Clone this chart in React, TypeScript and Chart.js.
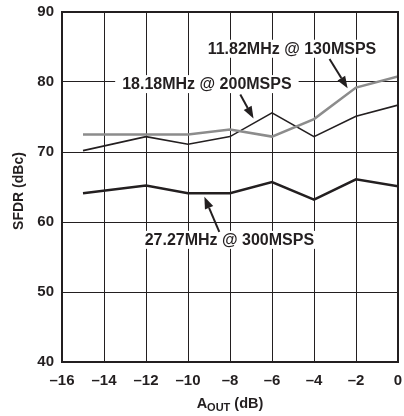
import React, { useEffect, useRef } from 'react';
import { Chart, registerables } from 'chart.js';

Chart.register(...registerables);

// ---- data ----
const aoutValues = [-15, -12, -10, -8, -6, -4, -2, 0];
const sfdr130 = [72.5, 72.5, 72.5, 73.2, 72.2, 74.7, 79.2, 80.8];
const sfdr200 = [70.2, 72.2, 71.1, 72.2, 75.6, 72.2, 75.1, 76.7];
const sfdr300 = [64.1, 65.2, 64.1, 64.1, 65.7, 63.2, 66.1, 65.1];
const seriesLabels = ['11.82MHz @ 130MSPS', '18.18MHz @ 200MSPS', '27.27MHz @ 300MSPS'];
const xTicks = [-16, -14, -12, -10, -8, -6, -4, -2, 0];
const yTicks = [40, 50, 60, 70, 80, 90];

// annotation placement in data units
const labelPos = [
  { x: -5.05, y: 84.75 },
  { x: -9.1, y: 79.7 },
  { x: -8.03, y: 57.45 },
];
const arrowPos = [
  { x1: -3.26, y1: 83.3, x2: -2.4, y2: 79.1 },
  { x1: -7.51, y1: 78.2, x2: -6.88, y2: 74.8 },
  { x1: -8.51, y1: 58.6, x2: -9.22, y2: 63.6 },
];

const FONT = '"Liberation Sans", Arial, Helvetica, sans-serif';
const TEXT = '#231f20';

const annotationPlugin = {
  id: 'annots',
  beforeDatasetsDraw(chart: any) {
    const { ctx, scales } = chart;
    const xs = scales.x, ys = scales.y;
    ctx.save();
    ctx.font = `bold 16px ${FONT}`;
    ctx.textAlign = 'center';
    ctx.textBaseline = 'middle';
    labelPos.forEach((p, i) => {
      const cx = xs.getPixelForValue(p.x);
      const cy = ys.getPixelForValue(p.y);
      const w = ctx.measureText(seriesLabels[i]).width;
      ctx.fillStyle = '#ffffff';
      ctx.fillRect(cx - w / 2 - 7, cy - 9, w + 14, 18);
      ctx.fillStyle = TEXT;
      ctx.fillText(seriesLabels[i], cx, cy + 0.5);
    });
    ctx.restore();
  },
  afterDatasetsDraw(chart: any) {
    const { ctx, scales, chartArea } = chart;
    const xs = scales.x, ys = scales.y;
    ctx.save();
    // arrows
    arrowPos.forEach((a) => {
      const x1 = xs.getPixelForValue(a.x1), y1 = ys.getPixelForValue(a.y1);
      const x2 = xs.getPixelForValue(a.x2), y2 = ys.getPixelForValue(a.y2);
      const ang = Math.atan2(y2 - y1, x2 - x1);
      const head = 12, hw = 4.5;
      const bx = x2 - head * Math.cos(ang), by = y2 - head * Math.sin(ang);
      ctx.strokeStyle = TEXT;
      ctx.lineWidth = 2;
      ctx.beginPath();
      ctx.moveTo(x1, y1);
      ctx.lineTo(bx, by);
      ctx.stroke();
      ctx.fillStyle = TEXT;
      ctx.beginPath();
      ctx.moveTo(x2, y2);
      ctx.lineTo(bx + hw * Math.sin(ang), by - hw * Math.cos(ang));
      ctx.lineTo(bx - hw * Math.sin(ang), by + hw * Math.cos(ang));
      ctx.closePath();
      ctx.fill();
    });
    // frame
    ctx.strokeStyle = TEXT;
    ctx.lineWidth = 2;
    ctx.strokeRect(chartArea.left, chartArea.top, chartArea.right - chartArea.left, chartArea.bottom - chartArea.top);
    // y title
    ctx.fillStyle = TEXT;
    ctx.font = `bold 14px ${FONT}`;
    ctx.textAlign = 'center';
    ctx.textBaseline = 'middle';
    ctx.save();
    ctx.translate(19, (chartArea.top + chartArea.bottom) / 2 + 4);
    ctx.rotate(-Math.PI / 2);
    ctx.fillText('SFDR (dBc)', 0, 0);
    ctx.restore();
    // x title with subscript
    const big = `bold 14.5px ${FONT}`;
    const small = `bold 11px ${FONT}`;
    ctx.textAlign = 'left';
    ctx.textBaseline = 'alphabetic';
    ctx.font = big;
    const wA = ctx.measureText('A').width;
    const wRest = ctx.measureText(' (dB)').width;
    ctx.font = small;
    const wSub = ctx.measureText('OUT').width;
    const total = wA + wSub + wRest;
    let sx = (chartArea.left + chartArea.right) / 2 - total / 2;
    const base = 408;
    ctx.font = big;
    ctx.fillText('A', sx, base);
    sx += wA;
    ctx.font = small;
    ctx.fillText('OUT', sx, base + 3);
    sx += wSub;
    ctx.font = big;
    ctx.fillText(' (dB)', sx, base);
    ctx.restore();
  },
};

export default function App() {
  const ref = useRef<HTMLCanvasElement>(null);
  useEffect(() => {
    if (!ref.current) return;
    const toPts = (arr: number[]) => aoutValues.map((x, i) => ({ x, y: arr[i] }));
    const chart = new Chart(ref.current, {
      type: 'line',
      data: {
        datasets: [
          { label: seriesLabels[0], data: toPts(sfdr130), borderColor: '#8c8c8c', borderWidth: 2.5, pointRadius: 0, tension: 0, fill: false },
          { label: seriesLabels[1], data: toPts(sfdr200), borderColor: TEXT, borderWidth: 1.6, pointRadius: 0, tension: 0, fill: false },
          { label: seriesLabels[2], data: toPts(sfdr300), borderColor: TEXT, borderWidth: 2.5, pointRadius: 0, tension: 0, fill: false },
        ],
      },
      options: {
        responsive: false,
        animation: false,
        layout: { padding: { left: 0, top: 12, right: 6, bottom: 0 } },
        plugins: { legend: { display: false }, tooltip: { enabled: false } },
        scales: {
          x: {
            type: 'linear',
            min: -16,
            max: 0,
            afterFit: (s: any) => { s.height = 54; s.paddingLeft = 0; s.paddingRight = 0; },
            afterBuildTicks: (s: any) => { s.ticks = xTicks.map((v) => ({ value: v })); },
            grid: { color: TEXT, lineWidth: 1, drawTicks: false },
            border: { display: false },
            ticks: {
              padding: 10,
              color: TEXT,
              font: { family: FONT, size: 15, weight: 'bold' },
              callback: (v: any) => (Number(v) < 0 ? '\u2013' + Math.abs(Number(v)) : String(v)),
              maxRotation: 0,
            },
          },
          y: {
            type: 'linear',
            min: 40,
            max: 90,
            afterFit: (s: any) => { s.width = 62; s.paddingTop = 0; s.paddingBottom = 0; },
            afterBuildTicks: (s: any) => { s.ticks = yTicks.map((v) => ({ value: v })); },
            grid: { color: TEXT, lineWidth: 1, drawTicks: false },
            border: { display: false },
            ticks: {
              padding: 8,
              color: TEXT,
              font: { family: FONT, size: 15, weight: 'bold' },
            },
          },
        },
      },
      plugins: [annotationPlugin],
    } as any);
    return () => chart.destroy();
  }, []);
  return (
    <div style={{ position: 'absolute', left: 0, top: 0, width: 404, height: 416, background: '#fff' }}>
      <canvas ref={ref} width={404} height={416} style={{ display: 'block' }} />
    </div>
  );
}
